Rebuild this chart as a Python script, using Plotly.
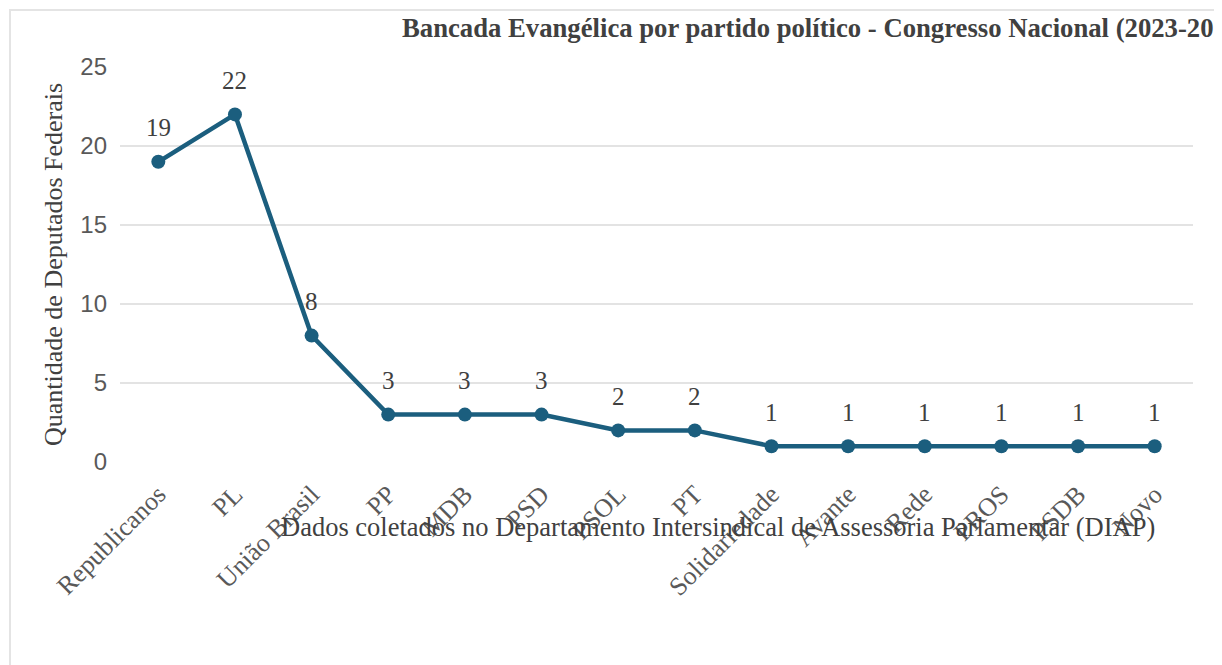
import plotly.graph_objects as go

partidos = ["Republicanos", "PL", "União Brasil", "PP", "MDB", "PSD", "PSOL", "PT",
            "Solidariedade", "Avante", "Rede", "PROS", "PSDB", "Novo"]
deputados = [19, 22, 8, 3, 3, 3, 2, 2, 1, 1, 1, 1, 1, 1]
y_ticks = [0, 5, 10, 15, 20, 25]

titulo = "Bancada Evangélica por partido político - Congresso Nacional (2023-2027)"
nota = "Dados coletados no Departamento Intersindical de Assessoria Parlamentar (DIAP)"
titulo_y = "Quantidade de Deputados Federais"

OFF = 8  # default page body margin
W, H = 1222 - OFF, 665 - OFF
# plot area in screen pixels: x 120..1193, y 67..462
X0, X1, Y0, Y1 = 120, 1193, 67, 462
L, R, T, B = X0 - OFF, W - (X1 - OFF), Y0 - OFF, H - (Y1 - OFF)
PW, PH = W - L - R, H - T - B

def px_x(x):
    return (x - OFF - L) / PW

def px_y(y):
    return (H - B - (y - OFF)) / PH

serif = "Liberation Serif, Times New Roman, serif"
sans = "Liberation Sans, Arial, sans-serif"
cor = "#1b5e7e"

fig = go.Figure()
fig.add_trace(go.Scatter(
    x=partidos, y=deputados, mode="lines+markers",
    line=dict(color=cor, width=4.5),
    marker=dict(color=cor, size=14),
    hoverinfo="x+y",
))

annotations = []
for p, v in zip(partidos, deputados):
    annotations.append(dict(x=p, y=v, xref="x", yref="y", text=str(v), showarrow=False,
                            yanchor="middle", yshift=34,
                            font=dict(family=serif, size=25, color="#404040")))

annotations.append(dict(x=px_x(400), y=px_y(28), xref="paper", yref="paper", text="<b>" + titulo + "</b>",
                        showarrow=False, xanchor="left", yanchor="middle",
                        font=dict(family=serif, size=26.7, color="#404040")))
annotations.append(dict(x=px_x(718), y=px_y(527), xref="paper", yref="paper", text=nota,
                        showarrow=False, xanchor="center", yanchor="middle",
                        font=dict(family=serif, size=26.5, color="#404040")))
annotations.append(dict(x=px_x(53), y=px_y(265), xref="paper", yref="paper", text=titulo_y,
                        showarrow=False, textangle=-90, xanchor="center", yanchor="middle",
                        font=dict(family=serif, size=26, color="#404040")))

fig.update_layout(
    width=W, height=H,
    margin=dict(l=L, r=R, t=T, b=B),
    paper_bgcolor="white", plot_bgcolor="white",
    showlegend=False,
    annotations=annotations,
    shapes=[dict(type="rect", xref="paper", yref="paper",
                 x0=px_x(10), x1=px_x(1217), y0=px_y(700), y1=px_y(10),
                 line=dict(color="#e4e4e4", width=2), fillcolor="rgba(0,0,0,0)", layer="below")],
    xaxis=dict(type="category", range=[-0.5, len(partidos) - 0.5], tickangle=-45,
               showgrid=False, showline=False, zeroline=False, automargin=False,
               ticklabelstandoff=11,
               tickfont=dict(family=serif, size=26, color="#595959")),
    yaxis=dict(range=[0, 25], tickvals=y_ticks, showgrid=True, gridcolor="#e3e3e3", gridwidth=1.5,
               zeroline=False, showline=False, automargin=False, ticklabelstandoff=12,
               tickfont=dict(family=sans, size=24, color="#595959")),
)

fig.write_html("out.html")
